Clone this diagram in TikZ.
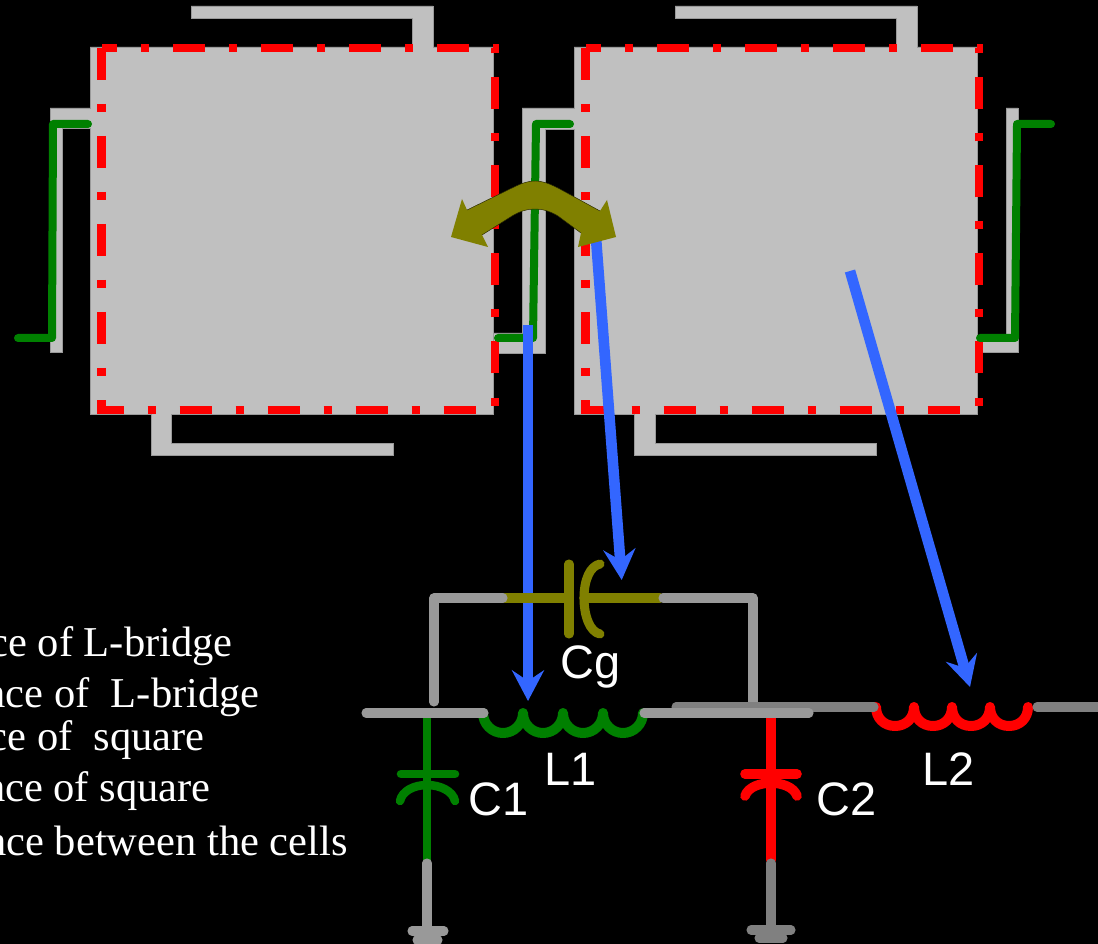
\documentclass[tikz,border=0pt]{standalone}
\usepackage{fontspec}
\setmainfont{Liberation Serif}
\newfontfamily\lsans{Liberation Sans}
\usetikzlibrary{arrows.meta}
\definecolor{cellgray}{HTML}{C0C0C0}
\definecolor{edgegray}{HTML}{9A9A9A}
\definecolor{wirelight}{HTML}{999999}
\definecolor{wiredark}{HTML}{808080}
\definecolor{bluearrow}{HTML}{3366FF}
\definecolor{olivec}{HTML}{808000}
\definecolor{greenc}{HTML}{008000}
\tikzset{
  cellfill/.style={fill=cellgray,draw=edgegray,line width=.5pt},
  reddash/.style={draw=red,line width=6.3pt,dash pattern=on 24pt off 18pt on 6pt off 18pt},
  greenL/.style={draw=greenc,line width=6pt,line cap=round,line join=round},
  bluelink/.style={draw=bluearrow,line width=8pt,-{Stealth[length=23pt,width=24pt,inset=8pt]}},
  wire/.style={line width=6.8pt,line cap=round,line join=round},
  wirelt/.style={wire,draw=wirelight},
  wiredk/.style={wire,draw=wiredark},
  olivew/.style={wire,draw=olivec},
  greenw/.style={wire,draw=greenc,line width=6.4pt},
  coilg/.style={wire,draw=greenc,line width=7.5pt},
  redw/.style={wire,draw=red,line width=7.2pt},
  coilr/.style={wire,draw=red,line width=7.5pt},
  legend/.style={anchor=base east,inner sep=0pt,text=white,font=\fontsize{31.9}{36}\selectfont},
  clabel/.style={anchor=base west,inner sep=0pt,text=white,font=\lsans\fontsize{35.2}{40}\selectfont},
}
\begin{document}
\begin{tikzpicture}[x=0.75pt,y=-0.75pt]
\path[use as bounding box,fill=black] (0,0) rectangle (1098,944);
\clip (0,0) rectangle (1098,944);

% cells with their L-bridges
\fill[cellfill] (191,6) -- (433,6) -- (433,47) -- (493,47) -- (493,414) -- (171,414) -- (171,443) -- (393,443) -- (393,455) -- (151,455) -- (151,414) -- (90,414) -- (90,128) -- (62,128) -- (62,352) -- (50,352) -- (50,108) -- (90,108) -- (90,47) -- (412,47) -- (412,18) -- (191,18) -- cycle;
\fill[cellfill] (675,6) -- (917,6) -- (917,47) -- (977,47) -- (977,340) -- (1006,340) -- (1006,108) -- (1018,108) -- (1018,352) -- (977,352) -- (977,414) -- (655,414) -- (655,443) -- (876,443) -- (876,455) -- (634,455) -- (634,414) -- (574,414) -- (574,129) -- (545,129) -- (545,353) -- (493,353) -- (493,333) -- (522,333) -- (522,108) -- (574,108) -- (574,47) -- (896,47) -- (896,18) -- (675,18) -- cycle;

% red dash-dot outlines
\draw[reddash] (101.5,48) -- (101.5,410) -- (495,410) -- (495,48) -- (101.5,48);
\draw[reddash] (585.5,48) -- (585.5,410) -- (979,410) -- (979,48) -- (585.5,48);

% green strips
\coordinate (ga1) at (18,338); \coordinate (ga2) at (52,338); \coordinate (ga3) at (53,124); \coordinate (ga4) at (88,124);
\coordinate (gb1) at (498,338); \coordinate (gb2) at (533,338); \coordinate (gb3) at (536,124); \coordinate (gb4) at (570,124);
\coordinate (gc1) at (980,338); \coordinate (gc2) at (1015,338); \coordinate (gc3) at (1017,124); \coordinate (gc4) at (1051,124);
\draw[greenL] (ga1) -- (ga2) -- (ga3) -- (ga4);
\draw[greenL] (gb1) -- (gb2) -- (gb3) -- (gb4);
\draw[greenL] (gc1) -- (gc2) -- (gc3) -- (gc4);

% blue links
\coordinate (b1s) at (528,325); \coordinate (b1e) at (528,701);
\coordinate (b2s) at (596,238); \coordinate (b2e) at (621.7,580);
\coordinate (b3s) at (850,271); \coordinate (b3e) at (970,687);
\draw[bluelink] (b1s) -- (b1e);
\draw[bluelink] (b2s) -- (b2e);
\draw[bluelink] (b3s) -- (b3e);

% olive double arrow
\fill[olivec] (467,210) -- (512,188) .. controls (522,183) and (528,181) .. (535,181)
  .. controls (542,181) and (548,183) .. (558,188)
  -- (600,211) -- (607,200) -- (616,237) -- (578,247) -- (581,233) -- (558,216)
  .. controls (550,211) and (542,209) .. (535,209)
  .. controls (528,209) and (520,211) .. (512,216)
  -- (482,235) -- (488,247) -- (451,237) -- (462,199) -- cycle;
\draw[black!70!olivec,line width=.35pt] (467,210) -- (512,188) .. controls (522,183) and (528,181) .. (535,181)
  .. controls (542,181) and (548,183) .. (558,188) -- (600,211);
\draw[black!70!olivec,line width=.35pt] (581,233) -- (558,216) .. controls (550,211) and (542,209) .. (535,209)
  .. controls (528,209) and (520,211) .. (512,216) -- (482,235);

% coupling branch
\draw[olivew] (505,598) -- (569,598);
\draw[olivew] (569,564) -- (569,634);
\draw[olivew] (600,564) .. controls (590,566) and (584,580) .. (584,598) .. controls (584,616) and (590,632) .. (600,634);
\draw[olivew] (584,598) -- (660,598);
\draw[wirelt] (434,702) -- (434,598) -- (503,598);
\draw[wirelt] (663,598) -- (753,598) -- (753,704);

% L1
\draw[coilg] (483,713) .. controls (483,724) and (492,733) .. (503,733) .. controls (514,733) and (523,724) .. (523,713)
  .. controls (523,724) and (532,733) .. (543,733) .. controls (554,733) and (563,724) .. (563,713)
  .. controls (563,724) and (572,733) .. (583,733) .. controls (594,733) and (603,724) .. (603,713)
  .. controls (603,724) and (612,733) .. (623,733) .. controls (634,733) and (643,724) .. (643,713);
% L2
\draw[coilr] (876,707) .. controls (876,718) and (884,726) .. (895,726) .. controls (906,726) and (914,718) .. (914,707)
  .. controls (914,718) and (922,726) .. (933,726) .. controls (944,726) and (952,718) .. (952,707)
  .. controls (952,718) and (960,726) .. (971,726) .. controls (982,726) and (990,718) .. (990,707)
  .. controls (990,718) and (998,726) .. (1009,726) .. controls (1020,726) and (1028,718) .. (1028,707);

% C1
\draw[greenw] (427,713) -- (427,860);
\draw[greenw] (401,774) -- (455,774);
\draw[greenw] (400,801) .. controls (402,791) and (414,785) .. (427,785) .. controls (440,785) and (453,791) .. (455,801);
\draw[wirelt] (427,863) -- (427,935);
\draw[wirelt] (412,931) -- (444,931);
\draw[wirelt] (417,940) -- (438,940);

% C2
\draw[redw] (771,712) -- (771,860);
\draw[redw] (745,774) -- (797,774);
\draw[redw] (745,796) .. controls (748,787) and (760,783) .. (771,783) .. controls (782,783) and (794,787) .. (797,796);
\draw[wiredk] (771,863) -- (771,935);
\draw[wiredk] (751,930) -- (791,930);
\draw[wiredk] (759,938) -- (783,938);

% main lines
\draw[wiredk] (676,707) -- (874,707);
\draw[wiredk] (1037,707) -- (1102,707);
\draw[wirelt] (366,713) -- (484,713);
\draw[wirelt] (644,713) -- (809,713);

% labels
\node[clabel] (lCg) at (560,678) {Cg};
\node[clabel] (lL1) at (544,785) {L1};
\node[clabel] (lC1) at (468,815) {C1};
\node[clabel] (lC2) at (816,815) {C2};
\node[clabel] (lL2) at (922,785) {L2};

\node[legend] (t1) at (233,656) {ce of L-bridge};
\node[legend] (t2) at (260,707) {nce of\ \ L-bridge};
\node[legend] (t3) at (205,750) {ce of\ \ square};
\node[legend] (t4) at (211,801) {nce of square};
\node[legend] (t5) at (348,855) {nce between the cells};
\end{tikzpicture}
\end{document}
